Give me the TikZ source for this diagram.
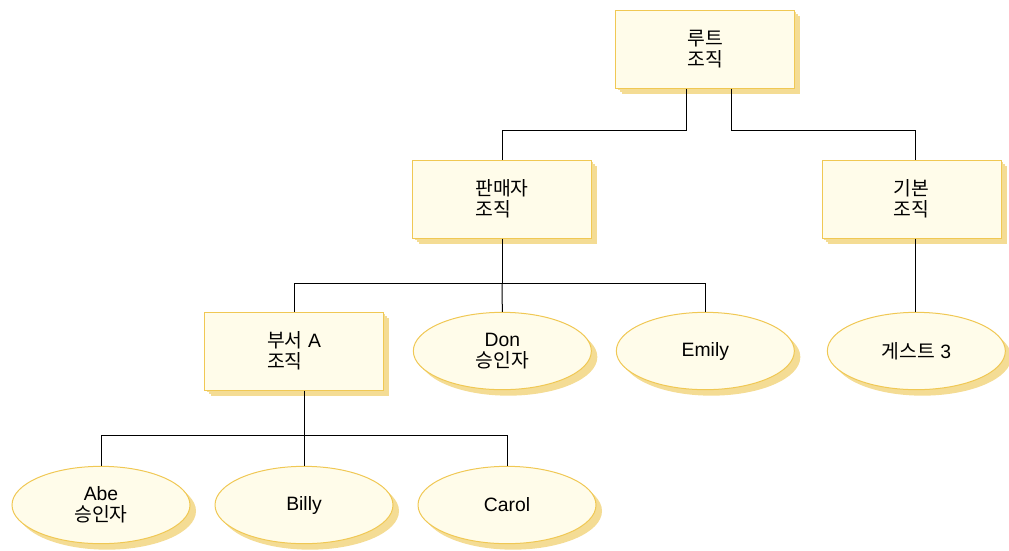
\documentclass[tikz,border=0pt]{standalone}
\usepackage{fontspec}
\setmainfont{Liberation Sans}
\newfontfamily\kr{Noto Sans CJK KR}
\usepackage{tikz}
\usetikzlibrary{calc,positioning,shapes.geometric,shadows}
\definecolor{boxfill}{RGB}{255,252,234}
\definecolor{boxdraw}{RGB}{240,200,84}
\definecolor{boxshade}{RGB}{244,220,148}
\tikzstyle{line} = [line width=0.75pt]

\begin{document}
\begin{tikzpicture}[x=0.75pt, y=-0.75pt]
\tikzset{%
	shade3d/.style = { general shadow={fill=boxshade, shadow xshift=1.5pt, shadow yshift=-1.5pt},
		general shadow={fill=boxshade, shadow xshift=3pt, shadow yshift=-3pt},
		general shadow={fill=boxshade, shadow xshift=4.5pt, shadow yshift=-4.5pt} },
	org/.style = { rectangle, shade3d, draw=boxdraw, fill=boxfill, line width=0.75pt, minimum width=134pt, minimum height=58.5pt, align=left, font=\fontsize{14.5pt}{15.5pt}\selectfont },
	person/.style = { ellipse, shade3d, draw=boxdraw, fill=boxfill, line width=0.75pt, inner sep=0pt, minimum width=133.5pt, minimum height=58pt, align=center, font=\fontsize{14.5pt}{15.5pt}\selectfont }
}
\useasboundingbox (0,0) rectangle (1009,550);

\node(Root)			[org] at (705,49)
								{\kr 루트\\\kr 조직};

\node(Seller)		[org] at (502,199)
								{\kr 판매자\\\kr 조직};
\node(Default)		[org, right=172.5pt of Seller.east]
								{\kr 기본\\\kr 조직};

\node(DeptA)		[org] at (294,351)
								{{\kr 부서} A\\\kr 조직};
\node(Don)			[person, right=21.75pt of DeptA.east]
								{Don\\\kr 승인자};
\node(Emily)		[person, right=18pt of Don.east]
								{Emily};
\node(Guest)		[person, right=24pt of Emily.east]
								{{\kr 게스트} 3};

\node(Abe)			[person] at (101,505)
								{Abe\\\kr 승인자};
\node(Billy)		[person, right=18pt of Abe.east]
								{Billy};
\node(Carol)		[person, right=18pt of Billy.east]
								{Carol};

%\draw [line] (Root) -- (Seller);
\draw [line]		([xshift=-14pt]Root.south) -- ++(0,42) -| (Seller.north);
\draw [line]		([xshift=20pt]Root.south) -- ++(0,42) -| ([xshift=3pt]Default.north);

\draw [line]		(Seller.south) -- ++(0,45) coordinate (SellerBus);
\draw [line]		(SellerBus) -| (DeptA.north);
\draw [line]		(SellerBus) -- (Don.north);
\draw [line]		(SellerBus) -| (Emily.north);

\draw [line]		([xshift=3pt]Default.south) -- ([xshift=3pt]Default.south |- Guest.north);

\draw [line]		(DeptA.south -| Billy.north) -- ++(0,45) coordinate (DeptBus);
\draw [line]		(DeptBus) -| (Abe.north);
\draw [line]		(DeptBus) -- (Billy.north);
\draw [line]		(DeptBus) -| (Carol.north);

\end{tikzpicture}
\end{document}
